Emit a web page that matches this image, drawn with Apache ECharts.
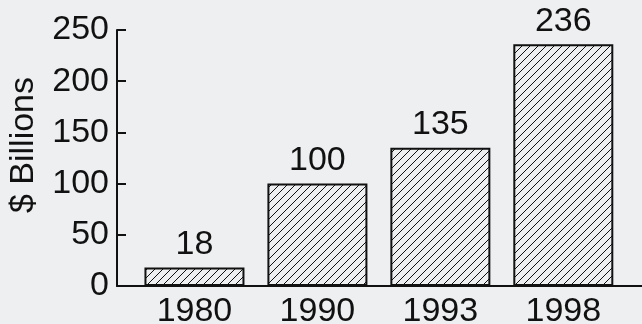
<!DOCTYPE html>
<html>
<head>
<meta charset="utf-8">
<script src="https://cdn.jsdelivr.net/npm/echarts@6/dist/echarts.min.js"></script>
<style>
  html, body { margin: 0; padding: 0; background: #eeeff1; }
  #chart { width: 642px; height: 324px; }
</style>
</head>
<body>
<div id="chart"></div>
<script>
// data
var years = ['1980', '1990', '1993', '1998'];
var billions = [18, 100, 135, 236];
var yTicks = [0, 50, 100, 150, 200, 250];

// hatch pattern "/" for the bars
function makeHatch() {
    var s = 8;
    var c = document.createElement('canvas');
    c.width = s; c.height = s;
    var ctx = c.getContext('2d');
    ctx.strokeStyle = '#111';
    ctx.lineWidth = 1;
    ctx.beginPath();
    ctx.moveTo(-1, s + 1); ctx.lineTo(s + 1, -1);
    ctx.moveTo(-1, 1); ctx.lineTo(1, -1);
    ctx.moveTo(s - 1, s + 1); ctx.lineTo(s + 1, s - 1);
    ctx.stroke();
    return c;
}

var font = '"Liberation Sans", Arial, Helvetica, sans-serif';
var myChart = echarts.init(document.getElementById('chart'));

myChart.setOption({
    backgroundColor: '#eeeff1',
    animation: false,
    grid: { left: 117, right: 0, top: 30, bottom: 38, outerBoundsMode: 'none' },
    xAxis: {
        type: 'value',
        min: -0.63,
        max: 3.64,
        splitLine: { show: false },
        axisLine: { show: true, onZero: false, lineStyle: { color: '#111', width: 2 } },
        axisTick: { show: false },
        axisLabel: {
            customValues: [0, 1, 2, 3],
            formatter: function(v) { return years[v]; },
            color: '#111',
            fontSize: 34,
            fontFamily: font,
            margin: 9
        }
    },
    yAxis: {
        type: 'value',
        min: yTicks[0],
        max: yTicks[yTicks.length - 1],
        interval: 50,
        name: '$ Billions',
        nameLocation: 'middle',
        nameGap: 76,
        nameMoveOverlap: false,
        nameTextStyle: { color: '#111', fontSize: 34, fontFamily: font, padding: [0, 0, 0, 26] },
        splitLine: { show: false },
        axisLine: { show: true, onZero: false, lineStyle: { color: '#111', width: 2 } },
        axisTick: { show: true, inside: true, length: 9, lineStyle: { color: '#111', width: 2 } },
        axisLabel: { color: '#111', fontSize: 34, fontFamily: font, margin: 8 }
    },
    series: [{
        type: 'bar',
        barWidth: 100,
        data: billions.map(function(v, i) { return [i, v]; }),
        itemStyle: {
            color: { image: makeHatch(), repeat: 'repeat' },
            borderColor: '#111',
            borderWidth: 2
        },
        label: {
            show: true,
            position: 'top',
            distance: 6,
            formatter: function(p) { return p.value[1]; },
            color: '#111',
            fontSize: 34,
            fontFamily: font
        }
    }]
});
</script>
</body>
</html>
